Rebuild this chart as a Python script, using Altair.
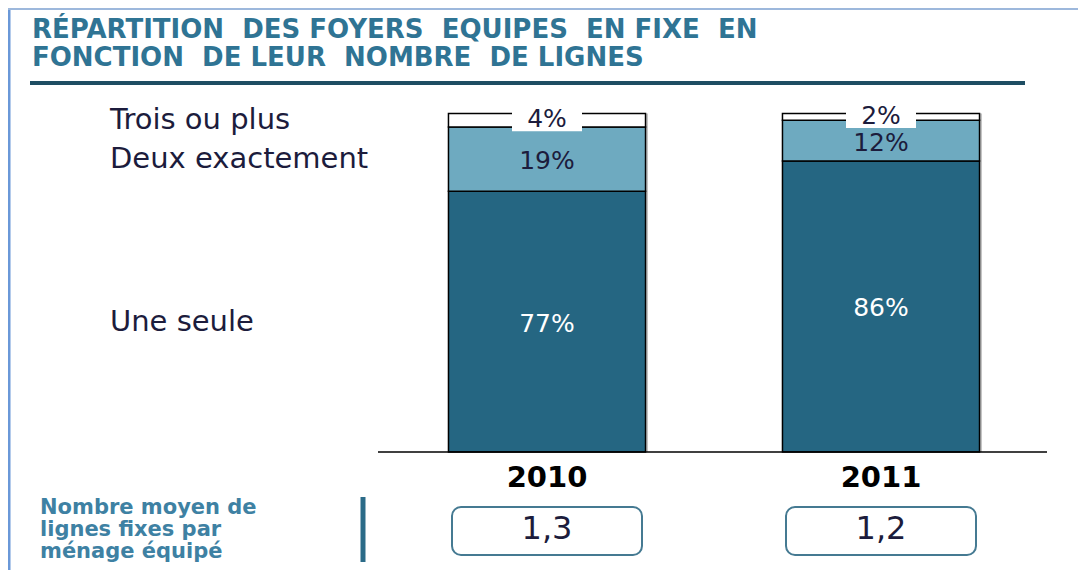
import altair as alt
import pandas as pd

# ---------------- data ----------------
years = ["2010", "2011"]
categories = ["Une seule", "Deux exactement", "Trois ou plus"]
share_une = [77, 86]
share_deux = [19, 12]
share_trois = [4, 2]
avg_lines = ["1,3", "1,2"]
title_lines = ["RÉPARTITION \u00a0DES FOYERS \u00a0EQUIPES \u00a0EN FIXE \u00a0EN",
               "FONCTION \u00a0DE LEUR \u00a0NOMBRE \u00a0DE LIGNES"]
note_lines = ["Nombre moyen  de", "lignes fixes par", "ménage équipé"]

# ---------------- styles ----------------
DARK = "#256682"
LIGHT = "#6eaac0"
TITLE_C = "#2f7494"
NOTE_C = "#3e81a3"
TEXT_C = "#1c1c3c"
FONT = "DejaVu Sans"

rows = []
for i, yr in enumerate(years):
    start = 0
    for cat, vals in zip(categories, [share_une, share_deux, share_trois]):
        v = vals[i]
        rows.append(dict(year=yr, cat=cat, v=v, y0=start, y1=start + v,
                         mid=start + v / 2, label=f"{v}%"))
        start += v
df = pd.DataFrame(rows)
df_years = pd.DataFrame({"year": years, "avg": avg_lines})
df_one = pd.DataFrame({"k": [0]})

xs = alt.Scale(domain=years, range=[372, 1040], paddingInner=0.41, paddingOuter=0.205)
ys = alt.Scale(domain=[0, 100], range=[444, 105.5])

X = alt.X("year:N", scale=xs, axis=None)

# frame
border_left = alt.Chart(df_one).mark_rule(color="#6a98d8", strokeWidth=3).encode(
    x=alt.value(1), y=alt.value(0), y2=alt.value(562))
border_top = alt.Chart(df_one).mark_rule(color="#9db8dc", strokeWidth=2).encode(
    x=alt.value(0), x2=alt.value(1070), y=alt.value(1))

title = alt.Chart(df_one).mark_text(
    align="left", baseline="middle", font=FONT, fontSize=26, fontWeight="bold",
    color=TITLE_C, lineHeight=28).encode(
    x=alt.value(24), y=alt.value(22), text=alt.value(title_lines))

underline = alt.Chart(df_one).mark_rule(color="#1e4d63", strokeWidth=4).encode(
    x=alt.value(22), x2=alt.value(1017), y=alt.value(75))

shadow = alt.Chart(df).transform_aggregate(
    total="sum(v)", groupby=["year"]).mark_bar(color="#c4c4c4", xOffset=2.5).encode(
    x=X, y=alt.Y("total:Q", scale=ys, axis=None), y2=alt.datum(0))

bars = alt.Chart(df).mark_bar(stroke="black", strokeWidth=1.5).encode(
    x=X,
    y=alt.Y("y0:Q", scale=ys, axis=None),
    y2="y1:Q",
    color=alt.Color("cat:N", scale=alt.Scale(domain=categories, range=[DARK, LIGHT, "white"]),
                    legend=None),
)

label_boxes = alt.Chart(df).transform_filter(alt.datum.cat == "Trois ou plus").mark_point(
    shape="M-1.75,-0.5L1.75,-0.5L1.75,0.5L-1.75,0.5Z", size=1600, filled=True,
    fill="white", opacity=1, strokeWidth=0, yOffset=1).encode(
    x=X, y=alt.Y("mid:Q", scale=ys))

top_labels = alt.Chart(df).transform_filter(alt.datum.cat == "Trois ou plus").mark_text(
    font=FONT, fontSize=25, baseline="middle", color=TEXT_C, dy=-1).encode(
    x=X, y=alt.Y("mid:Q", scale=ys), text="label:N")

seg_labels = alt.Chart(df).transform_filter(alt.datum.cat != "Trois ou plus").mark_text(
    font=FONT, fontSize=25, baseline="middle", dy=2).encode(
    x=X, y=alt.Y("mid:Q", scale=ys), text="label:N",
    color=alt.condition(alt.datum.cat == "Une seule", alt.value("white"), alt.value(TEXT_C)))

legend_labels = alt.Chart(df).transform_filter(alt.datum.year == "2010").mark_text(
    font=FONT, fontSize=29, align="left", baseline="middle", color=TEXT_C).encode(
    x=alt.value(102), y=alt.Y("mid:Q", scale=ys), text="cat:N")

baseline = alt.Chart(df_one).mark_rule(color="black", strokeWidth=1.5).encode(
    x=alt.value(370), x2=alt.value(1039), y=alt.value(444))

year_labels = alt.Chart(df_years).mark_text(
    font=FONT, fontSize=29, fontWeight="bold", color="black", baseline="middle").encode(
    x=X, text="year:N", y=alt.value(470))

vbar = alt.Chart(df_one).mark_rule(color="#2b6b88", strokeWidth=5).encode(
    x=alt.value(355), y=alt.value(489), y2=alt.value(554))

avg_boxes = alt.Chart(df_years).mark_bar(
    size=190, cornerRadius=9, fill="white", stroke="#457a92", strokeWidth=2).encode(
    x=X, y=alt.value(499), y2=alt.value(547))

avg_text = alt.Chart(df_years).mark_text(
    font=FONT, fontSize=32, color=TEXT_C, baseline="middle").encode(
    x=X, text="avg:N", y=alt.value(521))

note = alt.Chart(df_one).mark_text(
    align="left", baseline="middle", font=FONT, fontSize=21, fontWeight="bold",
    color=NOTE_C, lineHeight=22).encode(
    x=alt.value(32), y=alt.value(500), text=alt.value(note_lines))

chart = alt.layer(
    border_left, border_top, title, underline, shadow, bars, label_boxes, top_labels,
    seg_labels, legend_labels, baseline, year_labels, vbar, avg_boxes, avg_text, note
).properties(
    width=1070, height=562, autosize=alt.AutoSizeParams(type="none"), padding=0
).configure_view(stroke=None).configure(background="white")

chart.save("out.html", embed_options={"renderer": "svg", "actions": False})
